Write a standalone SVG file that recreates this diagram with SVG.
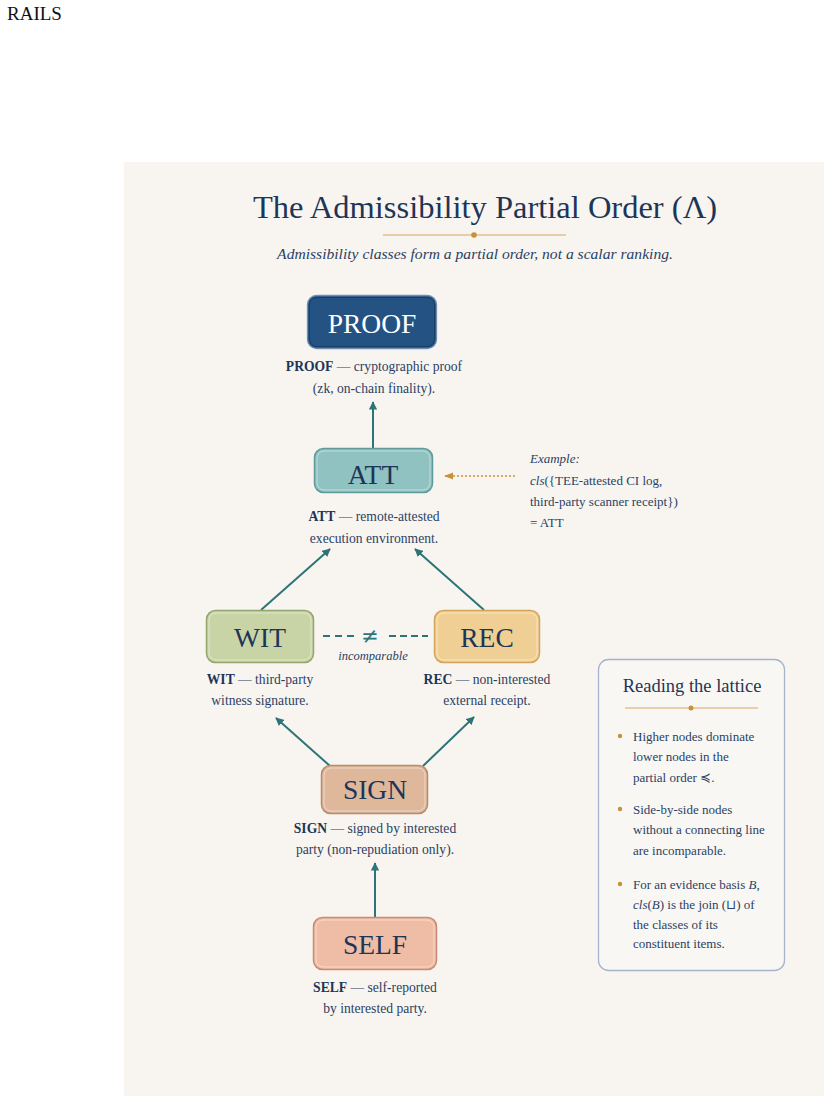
<svg xmlns="http://www.w3.org/2000/svg" width="830" height="1117" viewBox="0 0 830 1117">
  <defs>
    <marker id="ah" viewBox="0 0 10 10" refX="9" refY="5" markerWidth="4.2" markerHeight="4.2" orient="auto">
      <path d="M0,0 L10,5 L0,10 Z" fill="#2d7478"/>
    </marker>
    <marker id="ahg" viewBox="0 0 10 10" refX="9" refY="5" markerWidth="7" markerHeight="7" orient="auto">
      <path d="M0,1 L10,5 L0,9 Z" fill="#c8913a"/>
    </marker>
    <style>
      .serif { font-family: "Liberation Serif", "DejaVu Serif", serif; }
      .lbl { font-family: "Liberation Serif", serif; font-size: 27.5px; text-anchor: middle; fill: #1d3557; }
      .desc { font-family: "Liberation Serif", serif; font-size: 13.6px; text-anchor: middle; fill: #2a3f63; }
      .desc tspan.b { font-weight: bold; fill: #1d3557; }
      .body { font-family: "Liberation Serif", serif; font-size: 13px; fill: #2a3f63; }
      .edge { stroke: #2d7478; stroke-width: 2; fill: none; marker-end: url(#ah); }
      .inner { fill: none; stroke: #ffffff; stroke-opacity: 0.45; stroke-width: 1; }
    </style>
  </defs>

  <rect x="0" y="0" width="830" height="1117" fill="#ffffff"/>
  <text x="7" y="20" class="serif" font-size="19" fill="#111">RAILS</text>

  <rect x="124" y="162" width="700" height="934" fill="#f8f5f0"/>

  <g id="title">
    <text x="485" y="218" class="serif" font-size="32.5" text-anchor="middle" fill="#1d3557">The Admissibility Partial Order (Λ)</text>
    <line x1="383" y1="235" x2="566" y2="235" stroke="#d4a860" stroke-width="1.2"/>
    <circle cx="474" cy="235" r="2.8" fill="#c8913a"/>
    <text x="475" y="259" class="serif" font-size="15.6" font-style="italic" text-anchor="middle" fill="#2a3f63">Admissibility classes form a partial order, not a scalar ranking.</text>
  </g>

  <g id="connectors">
    <line class="edge" x1="373" y1="449" x2="373" y2="402"/>
    <line class="edge" x1="261" y1="610" x2="330" y2="549"/>
    <line class="edge" x1="484" y1="610" x2="415" y2="549"/>
    <line class="edge" x1="330" y1="766" x2="276" y2="718"/>
    <line class="edge" x1="423" y1="766" x2="474" y2="717"/>
    <line class="edge" x1="375" y1="917" x2="375" y2="863"/>
    <line x1="515" y1="476" x2="445" y2="476" stroke="#c8913a" stroke-width="1.3" stroke-dasharray="2,2" marker-end="url(#ahg)"/>
    <g id="incomparable">
      <line x1="323" y1="636" x2="354" y2="636" stroke="#2d7478" stroke-width="2" stroke-dasharray="7,5"/>
      <line x1="389" y1="636" x2="428" y2="636" stroke="#2d7478" stroke-width="2" stroke-dasharray="7,4"/>
      <text x="370" y="643" font-family="'DejaVu Sans', sans-serif" font-size="21" text-anchor="middle" fill="#2d7478">≠</text>
      <text x="373" y="660" class="serif" font-size="12.5" font-style="italic" text-anchor="middle" fill="#2a3f63">incomparable</text>
    </g>
  </g>

  <g id="node-proof">
    <rect x="307.5" y="295.5" width="129" height="53" rx="9" fill="#245282" stroke="#6f8fb5" stroke-width="1.3"/>
    <rect x="309.5" y="297.5" width="125" height="49" rx="7.5" fill="none" stroke="#1a3d63" stroke-width="1"/>
    <text x="372" y="333" class="lbl" style="fill:#ffffff">PROOF</text>
    <text class="desc"><tspan x="374" y="371"><tspan class="b">PROOF</tspan> — cryptographic proof</tspan><tspan x="374" y="393">(zk, on-chain finality).</tspan></text>
  </g>

  <g id="node-att">
    <rect x="314.5" y="448.5" width="118" height="44" rx="9" fill="#8fc2c0" stroke="#5d9c9b" stroke-width="1.5"/>
    <rect x="317" y="451" width="113" height="39" rx="7" class="inner"/>
    <text x="373" y="484" class="lbl">ATT</text>
    <text class="desc"><tspan x="374" y="521"><tspan class="b">ATT</tspan> — remote-attested</tspan><tspan x="374" y="543">execution environment.</tspan></text>
  </g>

  <g id="example">
    <text class="body" font-size="13.6"><tspan x="530" y="463" font-style="italic">Example:</tspan><tspan x="530" y="485"><tspan font-style="italic">cls</tspan>({TEE-attested CI log,</tspan><tspan x="530" y="506">third-party scanner receipt})</tspan><tspan x="530" y="527">= ATT</tspan></text>
  </g>

  <g id="node-wit">
    <rect x="206.5" y="610.5" width="107" height="52" rx="9" fill="#c8d4a6" stroke="#94a56d" stroke-width="1.5"/>
    <rect x="209" y="613" width="102" height="47" rx="7" class="inner"/>
    <text x="260" y="647" class="lbl">WIT</text>
    <text class="desc"><tspan x="260" y="684"><tspan class="b">WIT</tspan> — third-party</tspan><tspan x="260" y="705">witness signature.</tspan></text>
  </g>

  <g id="node-rec">
    <rect x="434.5" y="610.5" width="105" height="52" rx="9" fill="#f0cf94" stroke="#d3a55b" stroke-width="1.5"/>
    <rect x="437" y="613" width="100" height="47" rx="7" class="inner"/>
    <text x="487" y="647" class="lbl">REC</text>
    <text class="desc"><tspan x="487" y="684"><tspan class="b">REC</tspan> — non-interested</tspan><tspan x="487" y="705">external receipt.</tspan></text>
  </g>

  <g id="node-sign">
    <rect x="321.5" y="765.5" width="106" height="48" rx="9" fill="#dfb89b" stroke="#b88b6c" stroke-width="1.5"/>
    <rect x="324" y="768" width="101" height="43" rx="7" class="inner"/>
    <text x="375" y="799" class="lbl">SIGN</text>
    <text class="desc"><tspan x="375" y="833"><tspan class="b">SIGN</tspan> — signed by interested</tspan><tspan x="375" y="854">party (non-repudiation only).</tspan></text>
  </g>

  <g id="node-self">
    <rect x="313.5" y="917.5" width="123" height="52" rx="9" fill="#efbca5" stroke="#c98b73" stroke-width="1.5"/>
    <rect x="316" y="920" width="118" height="47" rx="7" class="inner"/>
    <text x="375" y="954" class="lbl">SELF</text>
    <text class="desc"><tspan x="375" y="992"><tspan class="b">SELF</tspan> — self-reported</tspan><tspan x="375" y="1013">by interested party.</tspan></text>
  </g>

  <g id="legend">
    <rect x="598.5" y="659.5" width="186" height="311" rx="10" fill="#f9f7f3" stroke="#a6b4cb" stroke-width="1.3"/>
    <text x="692" y="692" class="serif" font-size="18.5" text-anchor="middle" fill="#1d3557">Reading the lattice</text>
    <line x1="625" y1="708" x2="758" y2="708" stroke="#d4a860" stroke-width="1.1"/>
    <circle cx="691" cy="708" r="2.5" fill="#c8913a"/>
    <circle cx="620" cy="736" r="2.2" fill="#c8913a"/>
    <circle cx="620" cy="809" r="2.2" fill="#c8913a"/>
    <circle cx="620" cy="884" r="2.2" fill="#c8913a"/>
    <text class="body"><tspan x="633" y="741">Higher nodes dominate</tspan><tspan x="633" y="761">lower nodes in the</tspan><tspan x="633" y="782">partial order ≼.</tspan></text>
    <text class="body"><tspan x="633" y="814">Side-by-side nodes</tspan><tspan x="633" y="834">without a connecting line</tspan><tspan x="633" y="855">are incomparable.</tspan></text>
    <text class="body"><tspan x="633" y="889">For an evidence basis <tspan font-style="italic">B</tspan>,</tspan><tspan x="633" y="909"><tspan font-style="italic">cls</tspan>(<tspan font-style="italic">B</tspan>) is the join (⊔) of</tspan><tspan x="633" y="929">the classes of its</tspan><tspan x="633" y="948">constituent items.</tspan></text>
  </g>
</svg>
